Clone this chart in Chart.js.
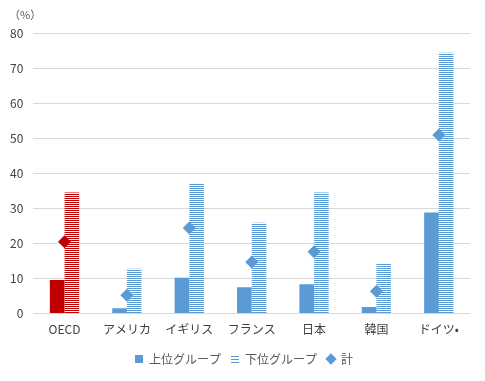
<!DOCTYPE html>
<html><head><meta charset="utf-8">
<script src="https://cdn.jsdelivr.net/npm/chart.js@4/dist/chart.umd.min.js"></script>
<style>html,body{margin:0;padding:0;background:#fff}#wrap{width:485px;height:381px}</style>
</head><body><div id="wrap"><canvas id="c" width="485" height="381"></canvas></div>
<script>
const categories = ["OECD","アメリカ","イギリス","フランス","日本","韓国","ドイツ•"];
const upperGroup = [9.6,1.5,10.2,7.5,8.4,1.9,28.8];
const lowerGroup = [34.5,12.8,37.2,25.9,34.5,14.4,74.4];
const total = [20.5,5.2,24.4,14.7,17.6,6.4,50.9];
const seriesNames = ["上位グループ","下位グループ","計"];
const yTicks = [0,10,20,30,40,50,60,70,80];

const BLUE = "#5B9BD5", RED = "#C00000";
function stripe(color){
  const c = document.createElement('canvas'); c.width = 4; c.height = 2;
  const x = c.getContext('2d');
  x.fillStyle = '#fff'; x.fillRect(0,0,4,2);
  x.fillStyle = color; x.fillRect(0,0,4,1);
  return x.createPattern(c,'repeat');
}
function stripeIcon(){
  const c = document.createElement('canvas'); c.width = 8; c.height = 8;
  const x = c.getContext('2d');
  x.fillStyle = BLUE;
  x.fillRect(0,1,8,1); x.fillRect(0,4,8,1); x.fillRect(0,7,8,1);
  return c;
}
function squareIcon(){
  const c = document.createElement('canvas'); c.width = 8; c.height = 8;
  const x = c.getContext('2d'); x.fillStyle = BLUE; x.fillRect(0,0,8,8); return c;
}
const colorsFor = (base, first) => categories.map((_,i)=> i===0 ? first : base);
const FONT = "'Noto Sans CJK JP', 'Noto Sans', sans-serif";
const pctPlugin = {
  id:'pct',
  afterLayout(chart){
    if (chart.legend) { chart.legend.left += 9; chart.legend.right += 9; }
  },
  afterDraw(chart){
    const ctx = chart.ctx; ctx.save();
    ctx.font = "11px " + FONT; ctx.fillStyle = '#595959';
    ctx.textBaseline = 'middle'; ctx.textAlign = 'left';
    ctx.fillText('（%）', 9, 15);
    ctx.restore();
  }
};
new Chart(document.getElementById('c'), {
  data: {
    labels: categories,
    datasets: [
      {type:'bar', label: seriesNames[0], data: upperGroup, backgroundColor: colorsFor(BLUE, RED), order: 2,
       categoryPercentage: 0.47, barPercentage: 1.0},
      {type:'bar', label: seriesNames[1], data: lowerGroup, backgroundColor: colorsFor(stripe(BLUE), stripe(RED)), order: 2,
       categoryPercentage: 0.47, barPercentage: 1.0},
      {type:'line', label: seriesNames[2], data: total, showLine:false, pointStyle:'rectRot', pointRadius:6.5,
       pointBackgroundColor: colorsFor(BLUE, RED), pointBorderColor: colorsFor(BLUE, RED), pointBorderWidth:0, order: 1,
       backgroundColor: BLUE, borderColor: BLUE}
    ]
  },
  plugins:[pctPlugin],
  options: {
    responsive:false, animation:false, devicePixelRatio:1,
    layout:{padding:{top:33,left:0,right:15,bottom:6}},
    plugins:{
      tooltip:{enabled:false},
      legend:{position:'bottom', labels:{
        font:{size:12, family:FONT}, color:'#595959', boxWidth:8, boxHeight:8, padding:10, usePointStyle:true,
        generateLabels(chart){
          return [
            {text:seriesNames[0], pointStyle:squareIcon(), fillStyle:BLUE, strokeStyle:BLUE, lineWidth:0, datasetIndex:0, fontColor:'#595959'},
            {text:seriesNames[1], pointStyle:stripeIcon(), fillStyle:BLUE, strokeStyle:BLUE, lineWidth:0, datasetIndex:1, fontColor:'#595959'},
            {text:seriesNames[2], pointStyle:'rectRot', fillStyle:BLUE, strokeStyle:BLUE, lineWidth:0, datasetIndex:2, fontColor:'#595959'}
          ];
        }
      }}
    },
    scales:{
      x:{grid:{display:false}, border:{display:false},
         afterFit(scale){ scale.height += 5; },
         ticks:{font:{size:12, family:FONT}, color:'#404040', padding:1}},
      y:{min:0,max:80, afterBuildTicks(ax){ax.ticks = yTicks.map(v=>({value:v}));},
         grid:{color:'#D9D9D9', lineWidth:1, drawTicks:false}, border:{display:false},
         ticks:{font:{size:12, family:FONT}, color:'#404040', padding:10}}
    }
  }
});
</script></body></html>
